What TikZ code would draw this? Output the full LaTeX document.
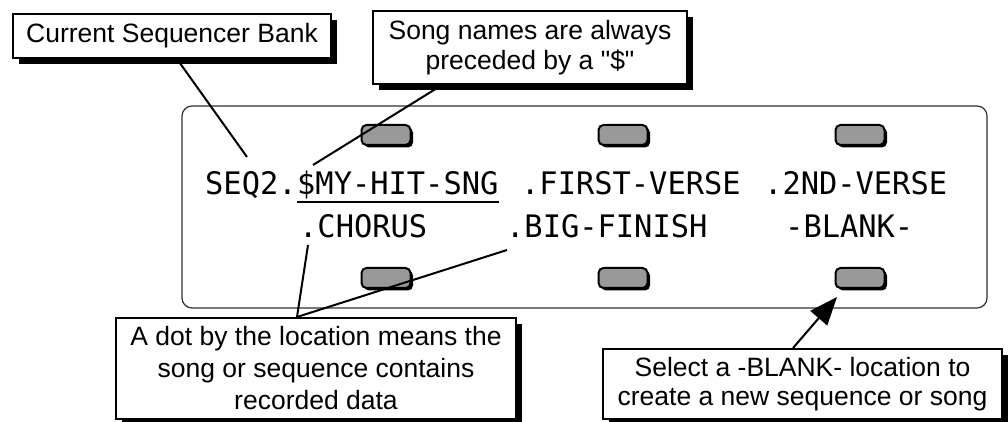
\documentclass[tikz,border=0pt]{standalone}
\usepackage{fontspec}
\setmainfont{Liberation Sans}
\newfontfamily\lcdfont[FakeStretch=0.98]{DejaVu Sans Mono}
\usetikzlibrary{arrows.meta,shadows}
\definecolor{keyGray}{HTML}{999999}
\definecolor{panelLine}{HTML}{303030}

\begin{document}
\begin{tikzpicture}[x=1pt,y=1pt,
    note/.style={draw, line width=2pt, fill=white, align=center, inner sep=0pt,
        font=\fontsize{26.5}{30}\selectfont,
        drop shadow={fill=black, opacity=1, shadow xshift=6pt, shadow yshift=-6pt}},
    lcd/.style={anchor=base west, inner sep=0pt, font=\lcdfont\fontsize{31}{31}\selectfont},
    key/.style={draw, line width=2pt, fill=keyGray, rounded corners=5pt,
        minimum width=49pt, minimum height=20pt, inner sep=0pt,
        drop shadow={fill=black, opacity=1, shadow xshift=2.5pt, shadow yshift=-2.5pt}},
    lead/.style={line width=2pt},
  ]
  \useasboundingbox (0,0) rectangle (1008,422);

  % display panel
  \draw[panelLine, line width=1.2pt, rounded corners=10pt] (182,114) rectangle (987,316);

  % soft keys above and below the display
  \foreach \x/\n in {386/1, 623/2, 860/3} {
    \node[key] (top\n) at (\x,287) {};
    \node[key] (bot\n) at (\x,144) {};
  }

  % display text
  \node[lcd] (seq)    at (205,227) {SEQ2.};
  \node[lcd] (song)   at (297,227) {\$MY-HIT-SNG};
  \node[lcd] (first)  at (521,227) {.FIRST-VERSE};
  \node[lcd] (second) at (764,227) {.2ND-VERSE};
  \node[lcd] (chorus) at (299,184) {.CHORUS};
  \node[lcd] (bigfin) at (506,184) {.BIG-FINISH};
  \node[lcd] (blank)  at (785,184) {-BLANK-};
  \draw[line width=2pt] ([yshift=-7pt]song.base west) -- ([yshift=-7pt]song.base east);

  % callouts
  \node[note, minimum width=318pt, minimum height=44pt] (bank) at (172,386)
      {Current Sequencer Bank};
  \node[note, minimum width=314pt, minimum height=73pt] (names) at (530,374.5)
      {Song names are always\\preceded by a \textquotedbl\$\textquotedbl};
  \node[note, minimum width=400pt, minimum height=101pt,
        font=\fontsize{26.5}{32}\selectfont] (dotnote) at (316,53.5)
      {A dot by the location means the\\song or sequence contains\\recorded data};
  \node[note, minimum width=399pt, minimum height=70pt,
        font=\fontsize{26.5}{29}\selectfont] (blanknote) at (802.5,38)
      {Select a -BLANK- location to\\create a new sequence or song};

  \coordinate (seqtip)    at (247,265);
  \coordinate (songtip)   at (313,257);
  \coordinate (chorustip) at (308,177);
  \coordinate (bigtip)    at (507,172);
  \coordinate (blanktip)  at (837,125);

  \draw[lead] ([xshift=5pt]bank.south) -- (seqtip);
  \draw[lead] ([xshift=-88pt]names.south) -- (songtip);
  \draw[lead] ([xshift=-19pt]dotnote.north) -- (chorustip);
  \draw[lead] ([xshift=-19pt]dotnote.north) -- (bigtip);
  \draw[lead, -{Triangle[length=28pt, width=22pt]}] ([xshift=-9.5pt]blanknote.north) -- (blanktip);
\end{tikzpicture}
\end{document}
